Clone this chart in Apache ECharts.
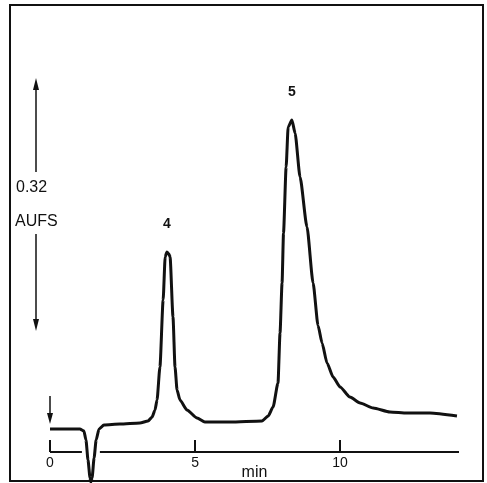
<!DOCTYPE html>
<html>
<head>
<meta charset="utf-8">
<script src="https://cdn.jsdelivr.net/npm/echarts@6/dist/echarts.min.js"></script>
<style>html,body{margin:0;padding:0;background:#fff}#c{width:487px;height:483px}</style>
</head>
<body>
<div id="c"></div>
<script>
// time in min
const time = [0.00,1.03,1.17,1.24,1.31,1.38,1.41,1.45,1.52,1.59,1.69,1.86,2.41,3.10,3.38,3.52,3.62,3.69,3.79,3.90,3.97,4.03,4.10,4.14,4.24,4.31,4.38,4.48,4.72,5.07,5.34,6.21,7.31,7.52,7.69,7.86,7.93,8.00,8.05,8.14,8.21,8.34,8.45,8.62,8.86,9.07,9.24,9.38,9.55,9.76,10.00,10.34,10.69,11.14,11.72,12.31,13.10,14.03];
// detector response in mAU
const signal = [29.4,29.4,26.9,15.4,-10.2,-33.3,-38.4,-33.3,-7.7,15.4,29.4,34.6,35.8,37.1,39.7,44.8,53.8,66.6,108.8,194.6,249.6,256,253.4,249.6,172.8,108.8,79.4,66.6,53.8,43.5,38.4,38.4,39.7,46,57.6,88.3,152.3,216.3,280,364.8,416,425,408,352,288,216.3,162,139.5,113.9,96,83.2,70.4,62.7,56.3,51.2,49.9,49.9,46.1];
const peakNames = ['4','5'];
const peakTimes = [4.03,8.34];
const xTicks = [0,5,10];
</script>
<script>
const chart = echarts.init(document.getElementById('c'));
const n = Math.min(time.length, signal.length);
const data = [];
for (let i = 0; i < n; i++) data.push([time[i], signal[i]]);
const peakMarks = peakTimes.map((t, k) => ({coord:[t, signal[time.indexOf(t)]], value:peakNames[k]}));
const font = 'Liberation Sans';
chart.setOption({
  animation:false,
  grid:{left:50, right:28, top:108.25, bottom:31, containLabel:false, outerBoundsMode:'none'},
  xAxis:{type:'value', min:0, max:14.1, interval:5,
    axisLine:{show:false},
    axisTick:{show:true, inside:true, length:12, lineStyle:{color:'#111', width:2}},
    axisLabel:{show:true, margin:4, fontSize:14, color:'#111', fontFamily:font, showMaxLabel:false,
      formatter:v => xTicks.indexOf(v) >= 0 ? String(v) : ''},
    splitLine:{show:false},
    name:'min', nameLocation:'middle', nameGap:13, nameMoveOverlap:false,
    nameTextStyle:{fontSize:16, color:'#111', fontFamily:font}
  },
  yAxis:{type:'value', min:0, max:440, show:false, splitLine:{show:false}},
  series:[{
    type:'line', data:data, showSymbol:false, symbol:'none', smooth:0.2, smoothMonotone:'x', clip:false,
    lineStyle:{color:'#111', width:3},
    markLine:{silent:true, symbol:'none', label:{show:false}, lineStyle:{color:'#111', width:2, type:'solid'},
      data:[[{coord:[0,0]},{coord:[1.1,0]}],[{coord:[1.72,0]},{coord:[14.1,0]}]]},
    markPoint:{silent:true, symbol:'circle', symbolSize:0, itemStyle:{color:'rgba(0,0,0,0)'},
      label:{show:true, position:'top', distance:21, formatter:p => p.value, fontSize:14, fontWeight:'bold', color:'#111', fontFamily:font},
      data:peakMarks}
  }],
  graphic:[
    {type:'rect', shape:{x:10,y:5,width:473,height:476}, style:{fill:'none', stroke:'#111', lineWidth:2}, silent:true},
    {type:'line', shape:{x1:36,y1:86,x2:36,y2:172}, style:{stroke:'#111', lineWidth:1.5}},
    {type:'polygon', shape:{points:[[36,78],[33,90],[39,90]]}, style:{fill:'#111'}},
    {type:'line', shape:{x1:36,y1:234,x2:36,y2:322}, style:{stroke:'#111', lineWidth:1.5}},
    {type:'polygon', shape:{points:[[36,331],[33,319],[39,319]]}, style:{fill:'#111'}},
    {type:'text', style:{text:'0.32', x:16, y:188, fontSize:16, fontFamily:font, fill:'#111', verticalAlign:'middle'}},
    {type:'text', style:{text:'AUFS', x:15, y:222, fontSize:16, fontFamily:font, fill:'#111', verticalAlign:'middle'}},
    {type:'line', shape:{x1:50,y1:396,x2:50,y2:416}, style:{stroke:'#111', lineWidth:1.5}},
    {type:'polygon', shape:{points:[[50,424],[47,413],[53,413]]}, style:{fill:'#111'}}
  ]
});
</script>
</body>
</html>
